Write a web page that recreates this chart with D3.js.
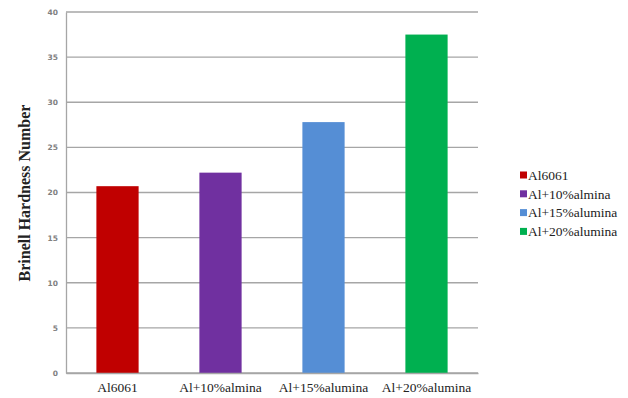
<!DOCTYPE html>
<html>
<head>
<meta charset="utf-8">
<script src="https://cdn.jsdelivr.net/npm/d3@7"></script>
<style>
  body { margin: 0; background: #fff; }
  svg { display: block; }
</style>
</head>
<body>
<svg id="chart" width="628" height="398"></svg>
<script>
// Brinell hardness of Al6061 and its alumina-reinforced composites
const categories = ["Al6061", "Al+10%almina", "Al+15%alumina", "Al+20%alumina"];
const legendLabels = ["Al6061", "Al+10%almina", "Al+15%alumina", "Al+20%alumina"];
const hardness = [20.7, 22.2, 27.8, 37.5];
const colors = ["#C00000", "#7030A0", "#558ED5", "#00B050"];
const yTicks = [0, 5, 10, 15, 20, 25, 30, 35, 40];

const svg = d3.select("#chart");
const margin = { left: 66, right: 150, top: 12, bottom: 25 };
const W = 628, H = 398;
const serif = "'Liberation Serif', 'Times New Roman', serif";

const x = d3.scaleBand()
  .domain(categories)
  .range([margin.left, W - margin.right])
  .paddingInner(0.59)
  .paddingOuter(0.295);

const y = d3.scaleLinear()
  .domain([0, 40])
  .range([H - margin.bottom, margin.top]);

// horizontal gridlines
svg.append("g")
  .selectAll("line")
  .data(yTicks)
  .join("line")
  .attr("x1", margin.left)
  .attr("x2", W - margin.right)
  .attr("y1", d => y(d))
  .attr("y2", d => y(d))
  .attr("stroke", "#a6a6a6")
  .attr("stroke-width", 1.3);

// y axis labels
const yAxis = d3.axisLeft(y).tickValues(yTicks).tickSize(0).tickPadding(8);
const gy = svg.append("g")
  .attr("transform", `translate(${margin.left},0)`)
  .call(yAxis);
gy.select(".domain").attr("stroke", "#a6a6a6").attr("stroke-width", 1.3);
gy.selectAll("text")
  .style("font-family", "'DejaVu Sans', sans-serif")
  .style("font-size", "7.5px")
  .style("font-weight", "bold")
  .attr("fill", "#808080");

// bars
svg.append("g")
  .selectAll("rect")
  .data(categories)
  .join("rect")
  .attr("x", d => x(d))
  .attr("width", x.bandwidth())
  .attr("y", (d, i) => y(hardness[i]))
  .attr("height", (d, i) => y(0) - y(hardness[i]))
  .attr("fill", (d, i) => colors[i]);

// x axis
const xAxis = d3.axisBottom(x).tickSize(0).tickPadding(9);
const gx = svg.append("g")
  .attr("transform", `translate(0,${y(0)})`)
  .call(xAxis);
gx.select(".domain").attr("stroke", "#a6a6a6").attr("stroke-width", 1.3);
gx.selectAll("text")
  .style("font-family", serif)
  .style("font-size", "13.5px")
  .attr("fill", "#222");

// y axis title
svg.append("text")
  .attr("transform", `translate(30,193) rotate(-90)`)
  .attr("text-anchor", "middle")
  .style("font-family", serif)
  .style("font-weight", "bold")
  .style("font-size", "16px")
  .attr("fill", "#222")
  .text("Brinell Hardness Number");

// legend
const legend = svg.append("g").attr("transform", "translate(520,175)");
const rows = legend.selectAll("g")
  .data(legendLabels)
  .join("g")
  .attr("transform", (d, i) => `translate(0,${i * 18.8})`);
rows.append("rect")
  .attr("x", 0).attr("y", -3.5)
  .attr("width", 7).attr("height", 7)
  .attr("fill", (d, i) => colors[i]);
rows.append("text")
  .attr("x", 8)
  .attr("dy", "0.35em")
  .style("font-family", serif)
  .style("font-size", "13.5px")
  .attr("fill", "#222")
  .text(d => d);
</script>
</body>
</html>
